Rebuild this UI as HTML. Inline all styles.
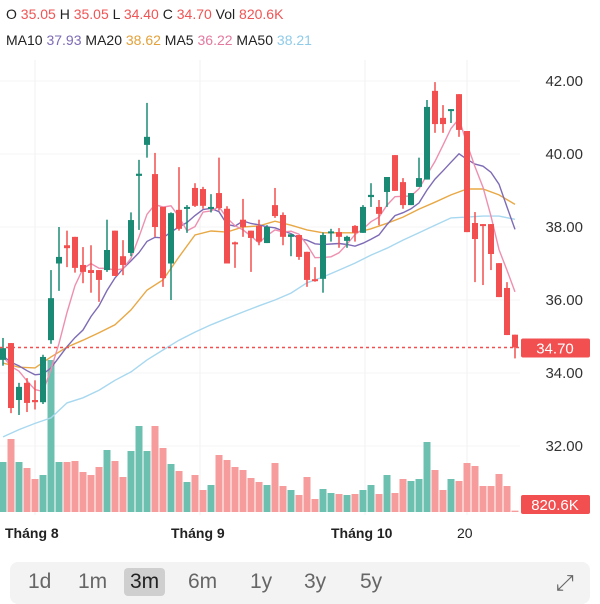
<!DOCTYPE html>
<html><head><meta charset="utf-8"><style>
body{margin:0;width:600px;height:600px;background:#fff;font-family:"Liberation Sans",sans-serif;overflow:hidden;position:relative}
.leg{position:absolute;left:6px;font-size:14px;color:#222;white-space:nowrap}
.leg span{margin-right:0}
#tabs{position:absolute;left:10px;top:562px;width:580px;height:42px;background:#f3f3f3;border-radius:8px}
.tab{position:absolute;top:6px;font-size:21px;color:#666;padding:2px 6px;border-radius:4px}
</style></head><body>
<div class="leg" style="top:6px">O <span style="color:#f05454">35.05</span> H <span style="color:#f05454">35.05</span> L <span style="color:#f05454">34.40</span> C <span style="color:#f05454">34.70</span> Vol <span style="color:#f05454">820.6K</span></div>
<div class="leg" style="top:32px">MA10 <span style="color:#7e6bb5">37.93</span> MA20 <span style="color:#e3a13a">38.62</span> MA5 <span style="color:#e3799f">36.22</span> MA50 <span style="color:#8fcbe8">38.21</span></div>
<svg id="chart" width="600" height="560" style="position:absolute;left:0;top:0"></svg>
<div id="tabs">
<div class="tab" style="left:12px">1d</div>
<div class="tab" style="left:62px">1m</div>
<div class="tab" style="left:114px;background:#cfcfcf;color:#222">3m</div>
<div class="tab" style="left:172px">6m</div>
<div class="tab" style="left:234px">1y</div>
<div class="tab" style="left:288px">3y</div>
<div class="tab" style="left:344px">5y</div>
<div class="tab" style="left:540px;font-size:22px">⤢</div>
</div>
<script>
const opens=[34.36,34.82,33.26,33.73,33.26,33.2,34.9,37.0,37.5,37.73,36.96,36.82,36.82,36.82,37.9,37.2,37.29,39.4,40.25,39.45,38.55,37.0,38.47,38.5,39.07,39.04,38.5,38.93,38.5,37.58,38.2,37.9,38.03,37.56,38.6,38.33,37.73,37.78,37.32,36.57,36.58,37.85,37.86,37.62,38.03,37.84,38.82,38.55,38.96,39.97,39.23,38.6,39.1,39.3,41.73,40.99,41.2,41.64,40.63,38.11,38.08,38.08,37.01,36.33,35.05];
const highs=[34.96,34.82,33.73,33.86,33.8,34.5,36.82,38.0,37.9,37.73,37.45,37.5,36.82,38.2,37.9,37.64,38.4,39.84,41.4,40.03,38.55,38.4,39.64,38.6,39.2,39.1,38.9,39.9,38.57,37.6,38.77,37.9,38.2,38.05,39.07,38.4,37.8,37.78,37.32,36.9,37.85,37.95,37.97,37.76,38.05,38.6,39.2,38.74,39.37,39.97,39.34,38.93,39.9,41.48,41.97,41.34,41.23,41.64,40.63,38.41,38.08,38.08,37.01,36.49,35.05];
const lows=[34.2,32.9,32.85,32.93,33.0,33.15,34.8,36.25,36.9,36.75,36.46,36.2,35.95,36.77,36.66,36.68,37.2,37.92,39.9,37.73,36.36,36.0,37.9,37.84,38.55,38.5,38.4,38.45,37.0,36.88,37.73,36.77,37.5,37.56,38.25,37.5,37.2,37.1,36.36,36.5,36.2,37.6,37.43,37.43,37.6,37.84,38.55,38.05,38.55,38.99,38.5,38.6,39.1,39.3,40.58,40.58,40.85,40.47,37.86,36.49,36.41,36.82,36.08,35.04,34.4];
const closes=[34.68,33.04,33.62,33.18,33.2,34.44,36.05,37.18,37.42,36.88,36.77,36.74,36.55,37.37,36.66,36.96,38.19,39.46,40.47,38.0,36.6,38.38,37.95,38.55,38.58,38.58,38.55,38.52,37.0,37.53,38.0,37.7,37.6,38.0,38.3,37.73,37.8,37.18,36.55,36.53,37.78,37.88,37.73,37.73,37.84,38.55,38.88,38.36,39.37,38.99,38.6,38.93,39.34,41.29,40.82,40.82,41.23,40.66,37.86,37.67,38.03,37.26,36.08,35.04,34.7];
const priorCloses=[34.8,34.6,34.5,34.3,34.2,34.4,34.3,34.5,34.4];
const volumesK=[30000,43800,30000,26400,19800,22200,91200,30000,30000,30600,24000,22200,27000,37200,30600,21000,36600,51600,36600,51600,38400,28800,24600,18000,22200,13200,16200,34200,31200,27000,25200,20400,18000,16200,29400,15600,13200,10200,21000,7800,13800,11400,10800,10200,10800,13200,16200,10800,22200,11400,19800,18600,19800,42000,25200,13200,19800,18600,29400,27600,15600,15600,22800,15600,820.6];
const ma20Even=[34.27,34.16,34.14,34.44,34.71,34.9,35.1,35.32,35.73,36.27,36.55,37.18,37.78,37.89,37.86,38.0,38.03,38.16,38.05,37.92,37.84,37.84,37.84,37.95,38.1,38.27,38.49,38.68,38.88,39.04,39.04,38.88,38.62];
const ma50Even=[32.25,32.45,32.62,32.77,33.18,33.32,33.53,33.8,34.03,34.36,34.63,34.9,35.12,35.32,35.5,35.67,35.84,36.0,36.19,36.47,36.63,36.82,37.01,37.23,37.42,37.64,37.84,38.05,38.25,38.27,38.3,38.3,38.21];
const priceTicks=["42.00","40.00","38.00","36.00","34.00","32.00"];
const monthLabels=["Tháng 8","Tháng 9","Tháng 10","20"];
const monthIdx=[0,21,41,57];
const lastPrice=34.70, lastVolLabel="820.6K";

const NS="http://www.w3.org/2000/svg";
const svg=document.getElementById('chart');
const X=i=>3+8*i;
const Y=p=>81+(42-p)*36.5;
const VY=v=>512-v/600;
function el(t,a){const e=document.createElementNS(NS,t);for(const k in a)e.setAttribute(k,a[k]);svg.appendChild(e);return e;}
[35,200,365,467].forEach(x=>{const g=el('line',{x1:x,x2:x,y1:60,y2:515,stroke:'#f2f2f2'});});
priceTicks.forEach(t=>{const p=parseFloat(t);const g=el('line',{x1:0,x2:520,y1:Y(p),y2:Y(p),stroke:'#f4f4f4'});
const tx=el('text',{x:583,y:Y(p)+5,'text-anchor':'end','font-size':15,fill:'#333','font-family':'Liberation Sans'});tx.textContent=t;
});
volumesK.forEach((v,i)=>{const up=closes[i]>=opens[i];const r=el('rect',{x:X(i)-3.5,y:VY(v),width:7,height:512-VY(v),fill:up?'#6cc0b0':'#f79c9c'});
});
function line(pts,color,name){const d=pts.map((p,k)=>(k?'L':'M')+p[0].toFixed(1)+' '+p[1].toFixed(1)).join(' ');const l=el('path',{d:d,fill:'none',stroke:color,'stroke-width':1.4});}
const all=priorCloses.concat(closes);
function sma(n){return closes.map((c,i)=>{const j=i+priorCloses.length;const s=all.slice(Math.max(0,j-n+1),j+1);return s.reduce((a,b)=>a+b,0)/s.length;});}
line(ma50Even.map((v,k)=>[X(2*k),Y(v)]),'#a8d8ef','ma50-line');
line(ma20Even.map((v,k)=>[X(2*k),Y(v)]),'#e8a845','ma20-line');
line(sma(10).map((v,i)=>[X(i),Y(v)]),'#7e6bb5','ma10-line');
line(sma(5).map((v,i)=>[X(i),Y(v)]),'#ee8fb0','ma5-line');
closes.forEach((c,i)=>{const o=opens[i];const up=c>=o;const col=up?'#1a8a74':'#f25050';
const w=el('line',{x1:X(i),x2:X(i),y1:Y(highs[i]),y2:Y(lows[i]),stroke:col,'stroke-width':1.5});
const top=Y(Math.max(o,c)),bh=Math.max(2,Math.abs(Y(o)-Y(c)));
const b=el('rect',{x:X(i)-3,y:top,width:6,height:bh,fill:col});});
const lp=el('line',{x1:0,x2:520,y1:Y(lastPrice),y2:Y(lastPrice),stroke:'#f25050','stroke-dasharray':'3 3','stroke-width':1.5});

const lb=el('rect',{x:521,y:Y(lastPrice)-9,width:69,height:19,rx:2,fill:'#f25050'});
const lt=el('text',{x:555,y:Y(lastPrice)+6,'text-anchor':'middle','font-size':15,fill:'#fff','font-family':'Liberation Sans'});lt.textContent=lastPrice.toFixed(2);
const vb=el('rect',{x:521,y:495,width:69,height:19,rx:2,fill:'#f25050'});
const vt=el('text',{x:555,y:510,'text-anchor':'middle','font-size':15,fill:'#fff','font-family':'Liberation Sans'});vt.textContent=lastVolLabel;
monthLabels.forEach((m,k)=>{const last=k===monthLabels.length-1;const t=el('text',{x:k===0?5:(last?X(monthIdx[k])-2:X(monthIdx[k])),y:538,'font-size':14,'font-weight':last?'normal':'bold',fill:'#222','font-family':'Liberation Sans'});t.textContent=m;
});
</script>
</body></html>
